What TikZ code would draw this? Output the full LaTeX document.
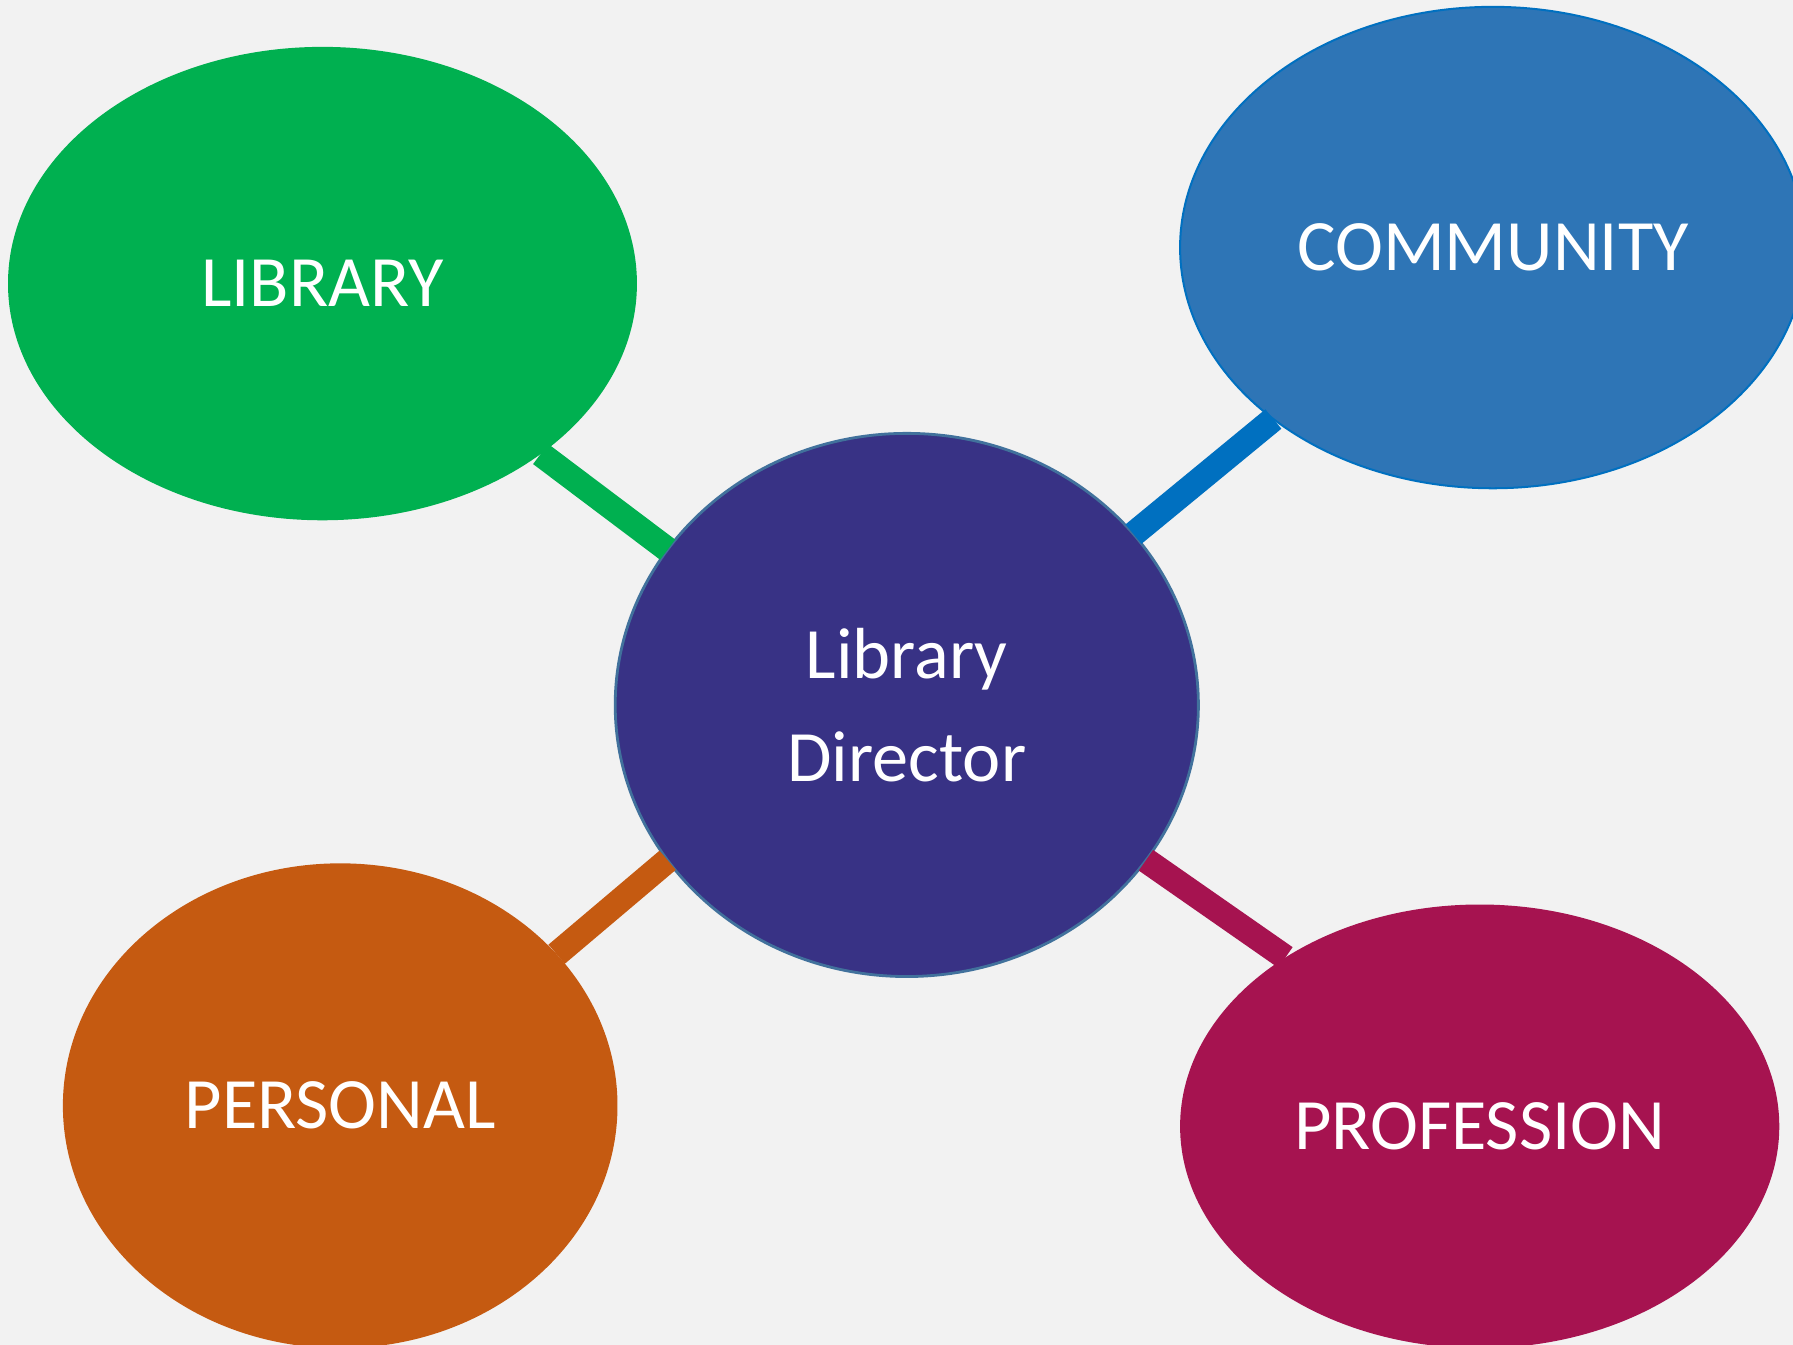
\documentclass[tikz,border=0pt]{standalone}
\usepackage{fontspec}
\setmainfont{Carlito}
\usetikzlibrary{shapes.geometric}
\definecolor{pagegray}{HTML}{F2F2F2}
\definecolor{libgreen}{HTML}{00B050}
\definecolor{commblue}{HTML}{2E75B6}
\definecolor{linkblue}{HTML}{0070C0}
\definecolor{dirpurple}{HTML}{383285}
\definecolor{dirborder}{HTML}{41719C}
\definecolor{perorange}{HTML}{C55A11}
\definecolor{profred}{HTML}{A61350}
\tikzset{
  bubble/.style={
    ellipse,
    inner sep=0pt,
    outer sep=0pt,
    align=center,
    text=white,
    font=\fontsize{18}{25.5}\selectfont
  },
  link/.style={line width=0.22cm}
}
\begin{document}
\begin{tikzpicture}
  \fill[pagegray] (0,0) rectangle (15.68,-11.76);
  \useasboundingbox (0,0) rectangle (15.68,-11.76);
  \clip (0,0) rectangle (15.68,-11.76);

  \node[bubble, fill=libgreen, minimum width=5.5cm, minimum height=4.14cm] (library) at (2.82,-2.48) {LIBRARY};
  \node[bubble, fill=commblue, draw=linkblue, line width=0.5pt, minimum width=5.47cm, minimum height=4.21cm] (community) at (13.055,-2.165) {COMMUNITY};
  \node[bubble, fill=dirpurple, draw=dirborder, line width=0.7pt, minimum width=5.1cm, minimum height=4.75cm] (director) at (7.93,-6.165) {Library\\Director};
  \node[bubble, fill=perorange, minimum width=4.85cm, minimum height=4.24cm] (personal) at (2.975,-9.67) {PERSONAL};
  \node[bubble, fill=profred, minimum width=5.24cm, minimum height=3.88cm] (profession) at (12.94,-9.85) {PROFESSION};

  \draw[link, draw=libgreen] (library.-38) -- (director.147);
  \draw[link, draw=linkblue] (community.-142.4) -- (director.37.8);
  \draw[link, draw=perorange] (personal.35.6) -- (director.213.8);
  \draw[link, draw=profred] (profession.139.8) -- (director.-33.2);
\end{tikzpicture}
\end{document}
